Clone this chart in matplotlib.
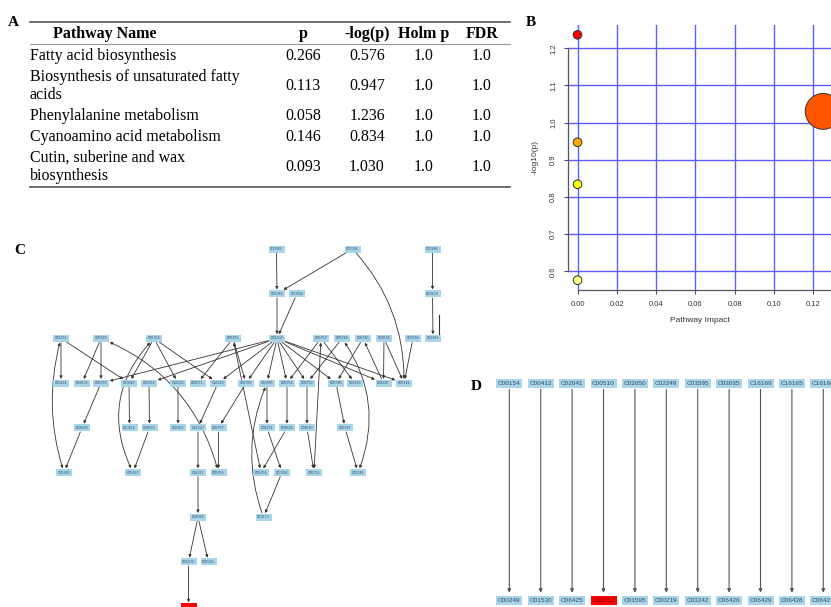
import textwrap
import numpy as np
import matplotlib
matplotlib.use("Agg")
import matplotlib.pyplot as plt
from matplotlib.patches import Rectangle, FancyArrowPatch

# --- Daten: Pathway-Analyse ---
pathways = ["Fatty acid biosynthesis",
            "Biosynthesis of unsaturated fatty acids",
            "Phenylalanine metabolism",
            "Cyanoamino acid metabolism",
            "Cutin, suberine and wax biosynthesis"]
p_values = [0.266, 0.113, 0.058, 0.146, 0.093]
neg_log_p = [0.576, 0.947, 1.236, 0.834, 1.030]
holm_p = [1.0, 1.0, 1.0, 1.0, 1.0]
fdr = [1.0, 1.0, 1.0, 1.0, 1.0]
impact = [0.0, 0.0, 0.0, 0.0, 0.125]

# --- Netzwerk C (Fettsaeure-Biosynthese) ---
# Knoten: (x in px, Ebene)
layout_c = {
    "C00383": (276.5, 0), "C00024": (352.5, 0), "C20683": (432.5, 0),
    "C00083": (277, 1), "C00229": (297, 1), "C00638": (432.5, 1),
    "C05761": (61, 2), "C05223": (101, 2), "C05764": (154, 2), "C05755": (233, 2),
    "C01209": (277, 2), "C05752": (321, 2), "C05749": (342, 2), "C05745": (363, 2),
    "C04618": (384, 2), "C03939": (413, 2), "C02843": (433, 2),
    "C06424": (61, 3), "C02679": (82, 3), "C05759": (101, 3), "C00249": (129, 3),
    "C05762": (149, 3), "C16520": (178, 3), "C01571": (197.5, 3), "C16219": (218, 3),
    "C05756": (246, 3), "C00685": (267, 3), "C05753": (287, 3), "C05750": (307, 3),
    "C05748": (336, 3), "C06423": (355, 3), "C04246": (383.5, 3), "C05744": (404, 3),
    "C04688": (82, 4), "C00154": (129.5, 4), "C04633": (149.5, 4), "C08362": (178, 4),
    "C16220": (198, 4), "C05757": (218.5, 4), "C01271": (267, 4), "C04619": (287, 4),
    "C04620": (307, 4), "C05747": (345, 4),
    "C05760": (64, 5), "C05763": (133, 5), "C16221": (198, 5), "C05758": (218.5, 5),
    "C05754": (261, 5), "C00693": (282, 5), "C05751": (314, 5), "C05746": (358, 5),
    "C04088": (198, 6), "C00173": (263.5, 6),
    "C01203": (188.5, 7), "C01530": (208.5, 7),
    "C00712": (188.5, 8),
}
hits_c = ["C00712"]

# Kanten: (von, nach, Kruemmung, beidseitig)
edges_c = [
    ("C00383", "C00083", 0, False), ("C00024", "C00083", 0, False),
    ("C00024", "C05744", -0.2, False), ("C20683", "C00638", 0, False),
    ("C00083", "C01209", 0, False), ("C00229", "C01209", 0, False),
    ("C00638", "C02843", 0, False),
    ("C05761", "C06424", 0, False), ("C05761", "C00249", 0, False),
    ("C05760", "C05761", -0.15, True),
    ("C05223", "C02679", 0, False), ("C05223", "C05759", 0, False),
    ("C05759", "C04688", 0, False), ("C04688", "C05760", 0, False),
    ("C05764", "C00249", 0, False), ("C05764", "C16520", 0, False),
    ("C05764", "C16219", 0, False), ("C05763", "C05764", -0.35, True),
    ("C00249", "C00154", 0, False), ("C05762", "C04633", 0, False),
    ("C04633", "C05763", 0, False), ("C16520", "C08362", 0, False),
    ("C05758", "C05223", 0.25, True),
    ("C16219", "C16220", 0, False), ("C16220", "C16221", 0, False),
    ("C05757", "C05758", 0, False), ("C05755", "C01571", 0, False),
    ("C05755", "C05756", 0, False), ("C05754", "C05755", 0, True),
    ("C05756", "C05757", 0, False),
    ("C01209", "C05759", 0, False), ("C01209", "C05762", 0, False),
    ("C01209", "C16219", 0, False), ("C01209", "C05756", 0, False),
    ("C01209", "C00685", 0, False), ("C01209", "C05753", 0, False),
    ("C01209", "C05750", 0, False), ("C01209", "C05748", 0, False),
    ("C01209", "C04246", 0, False), ("C01209", "C05744", 0, False),
    ("C00173", "C00685", -0.2, False), ("C00685", "C01271", 0, False),
    ("C05753", "C04619", 0, False), ("C05750", "C04620", 0, False),
    ("C05751", "C05752", 0, True), ("C05752", "C05753", 0, False),
    ("C05752", "C06423", 0, False), ("C05749", "C05750", 0, False),
    ("C05745", "C05748", 0, False), ("C05746", "C05749", 0.27, True),
    ("C04246", "C05745", 0, False), ("C04618", "C04246", 0, False),
    ("C04618", "C05744", 0, False), ("C03939", "C05744", 0, False),
    ("C05748", "C05747", 0, False), ("C05747", "C05746", 0, False),
    ("C04619", "C05754", 0, False), ("C01271", "C00693", 0, False),
    ("C04620", "C05751", 0, False), ("C00693", "C00173", 0, False),
    ("C16221", "C04088", 0, False), ("C04088", "C01203", 0, False),
    ("C04088", "C01530", 0, False), ("C01203", "C00712", 0, False),
]

# --- Netzwerk D (ungesaettigte Fettsaeuren) ---
top_d = ["C00154", "C00412", "C02041", "C00510", "C02050", "C02249",
         "C03595", "C03035", "C16169", "C16165", "C16166"]
bottom_d = ["C00249", "C01530", "C06425", "C00712", "C01595", "C00219",
            "C03242", "C06426", "C06429", "C06428", "C06427"]
hits_d = ["C00712"]

BOX = "#a9d5ea"
HIT = "#ff0000"
NODE_TXT = "#2e4a66"
serif = "Liberation Serif"
sans = "Liberation Sans"

fig = plt.figure(figsize=(8.31, 6.07), dpi=100)

# Pixel-Achse fuer Tabelle und Netzwerke
ov = fig.add_axes([0, 0, 1, 1])
ov.set_xlim(0, 831)
ov.set_ylim(607, 0)
ov.axis("off")

# ---------------- A: Tabelle ----------------
ov.text(13, 22, "A", fontsize=11, fontweight="bold", family=serif, ha="center", va="center")
x0, x1 = 30, 510
col_x = [303, 367, 424, 482]
fs = 11.5
ov.plot([x0, x1], [22, 22], color="#555555", lw=1.2)
ov.plot([x0, x1], [44, 44], color="#999999", lw=0.8)
ov.text(105, 34, "Pathway Name", fontsize=fs, fontweight="bold", family=serif, ha="center", va="center")
for cx, head in zip(col_x, ["p", "-log(p)", "Holm p", "FDR"]):
    ov.text(cx, 34, head, fontsize=fs, fontweight="bold", family=serif, ha="center", va="center")

y = 45.5
for name, pv, lp, hp, fd in zip(pathways, p_values, neg_log_p, holm_p, fdr):
    lines = textwrap.wrap(name, 33)
    h = 20.5 if len(lines) == 1 else 40
    yc = y + h / 2
    ov.text(x0, yc, "\n".join(lines), fontsize=fs, family=serif, ha="left", va="center",
            linespacing=1.2)
    for cx, val in zip(col_x, [f"{pv:.3f}", f"{lp:.3f}", f"{hp:.1f}", f"{fd:.1f}"]):
        ov.text(cx, yc, val, fontsize=fs, family=serif, ha="center", va="center")
    y += h
ov.plot([x0, x1], [y, y], color="#555555", lw=1.2)

# ---------------- B: Pathway-Impact ----------------
ov.text(531, 22, "B", fontsize=11, fontweight="bold", family=serif, ha="center", va="center")
axb = fig.add_axes([567.7 / 831, 1 - 290 / 607, 265.3 / 831, 265 / 607])
axb.patch.set_alpha(0)
heat = ["#FF0000", "#FF5500", "#FFAA00", "#FFFF00", "#FFFF80"]
rank = np.argsort(np.argsort(-np.array(neg_log_p)))
colors = [heat[r] for r in rank]
sizes = [(6.2 + 157 * imp) ** 2 for imp in impact]
axb.set_xlim(-0.005, 0.130)
axb.set_ylim(0.5496, 1.2624)
xt = np.arange(0, 0.13, 0.02)
yt = np.arange(0.6, 1.21, 0.1)
for v in xt:
    axb.axvline(v, color="#5c5cff", lw=1.0, zorder=1)
for v in yt:
    axb.axhline(v, color="#5c5cff", lw=1.0, zorder=1)
axb.scatter(impact, neg_log_p, s=sizes, c=colors, edgecolors="#333333", linewidths=0.7,
            zorder=3, clip_on=False)
for s in ["top", "right"]:
    axb.spines[s].set_visible(False)
axb.spines["left"].set_bounds(0.6, 1.2)
axb.spines["bottom"].set_bounds(0, 0.13)
for s in ["left", "bottom"]:
    axb.spines[s].set_color("#555555")
    axb.spines[s].set_linewidth(0.9)
axb.set_xticks(xt)
axb.set_xticklabels([f"{v:.2f}" for v in xt])
axb.set_yticks(yt)
axb.set_yticklabels([f"{v:.1f}" for v in yt], rotation=90, va="center")
axb.tick_params(length=3.2, width=0.8, color="#555555", labelsize=5.5, labelcolor="#333333", pad=4.5)
for lab in axb.get_xticklabels() + axb.get_yticklabels():
    lab.set_family(sans)
axb.set_xlabel("Pathway Impact", fontsize=6, family=sans, color="#333333", labelpad=7)
axb.set_ylabel("-log10(p)", fontsize=6, family=sans, color="#333333", labelpad=8)

# ---------------- C: Netzwerk ----------------
ov.text(20, 250, "C", fontsize=11, fontweight="bold", family=serif, ha="center", va="center")
row_y0, row_dy = 249, 44.7
patches_c = {}
for name, (nx, lvl) in layout_c.items():
    ny = row_y0 + lvl * row_dy
    rect = Rectangle((nx - 8, ny - 3.5), 16, 7, fc=HIT if name in hits_c else BOX,
                     ec="none", zorder=3)
    ov.add_patch(rect)
    patches_c[name] = (nx, ny, rect)
    if name not in hits_c:
        ov.text(nx, ny, name, fontsize=2.6, family=sans, color=NODE_TXT,
                ha="center", va="center", zorder=4)

for src, dst, rad, both in edges_c:
    xa, ya, ra = patches_c[src]
    xb, yb, rb = patches_c[dst]
    arr = FancyArrowPatch((xa, ya), (xb, yb), patchA=ra, patchB=rb,
                          arrowstyle="<|-|>" if both else "-|>", mutation_scale=4,
                          connectionstyle=f"arc3,rad={rad}", color="#333333", lw=0.6,
                          shrinkA=0.5, shrinkB=0.5, zorder=2)
    ov.add_patch(arr)

# kurzer Kantenstummel rechts neben C02843
sx, sy, _ = patches_c["C02843"]
ov.plot([sx + 6, sx + 6], [sy - 23, sy + 2], color="#333333", lw=0.8)

# ---------------- D: Netzwerk ----------------
ov.text(476, 386, "D", fontsize=11, fontweight="bold", family=serif, ha="center", va="center")
d_x0, d_dx = 509.3, 31.4
d_top, d_bot = 383.5, 600
for i, (a, b) in enumerate(zip(top_d, bottom_d)):
    dx = d_x0 + i * d_dx
    ra = Rectangle((dx - 13, d_top - 4.5), 26, 9, fc=HIT if a in hits_d else BOX, ec="none", zorder=3)
    rb = Rectangle((dx - 13, d_bot - 4.5), 26, 9, fc=HIT if b in hits_d else BOX, ec="none", zorder=3)
    ov.add_patch(ra)
    ov.add_patch(rb)
    ov.text(dx, d_top, a, fontsize=4.6, family=sans, color=NODE_TXT, ha="center", va="center", zorder=4)
    ov.text(dx, d_bot, b, fontsize=4.6, family=sans,
            color="#7a0000" if b in hits_d else NODE_TXT, ha="center", va="center", zorder=4)
    ov.add_patch(FancyArrowPatch((dx, d_top), (dx, d_bot), patchA=ra, patchB=rb, arrowstyle="-|>",
                                 mutation_scale=5, color="#555555", lw=0.8,
                                 shrinkA=1, shrinkB=2, zorder=2))

fig.savefig("out.png", dpi=100)
